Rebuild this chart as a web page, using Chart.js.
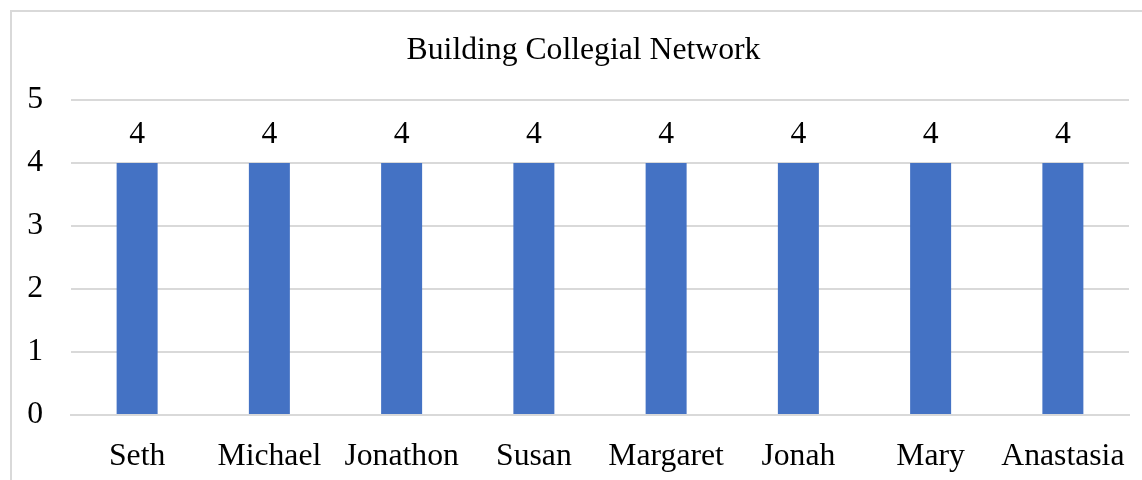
<!DOCTYPE html>
<html>
<head>
<meta charset="utf-8">
<script src="https://cdn.jsdelivr.net/npm/chart.js@4/dist/chart.umd.min.js"></script>
<style>
  html, body { margin: 0; padding: 0; background: #fff; }
  #wrap { position: relative; width: 1142px; height: 480px; overflow: hidden; }
  #frame { position: absolute; left: 10px; top: 10px; width: 1200px; height: 600px;
           border: 2px solid #d9d9d9; pointer-events: none; box-sizing: border-box; }
</style>
</head>
<body>
<div id="wrap">
  <canvas id="chart" width="1142" height="480"></canvas>
  <div id="frame"></div>
</div>
<script>
const categories = ['Seth', 'Michael', 'Jonathon', 'Susan', 'Margaret', 'Jonah', 'Mary', 'Anastasia'];
const scores = [4, 4, 4, 4, 4, 4, 4, 4];
const chartTitle = 'Building Collegial Network';

const serif = "'Liberation Serif', 'Times New Roman', serif";
const fontSize = 31.7;

// labels drawn above each bar
const barValueLabels = {
  id: 'barValueLabels',
  afterDatasetsDraw(chart) {
    const ctx = chart.ctx;
    const meta = chart.getDatasetMeta(0);
    ctx.save();
    ctx.font = fontSize + 'px ' + serif;
    ctx.fillStyle = '#000';
    ctx.textAlign = 'center';
    ctx.textBaseline = 'middle';
    meta.data.forEach((bar, i) => {
      ctx.fillText(String(chart.data.datasets[0].data[i]), bar.x, bar.y - 28);
    });
    ctx.restore();
  }
};

new Chart(document.getElementById('chart'), {
  type: 'bar',
  data: {
    labels: categories,
    datasets: [{
      data: scores,
      backgroundColor: '#4472C4',
      borderWidth: 0,
      categoryPercentage: 1,
      barPercentage: 0.31
    }]
  },
  options: {
    responsive: false,
    animation: false,
    layout: { padding: { left: 25, right: 0, top: 32, bottom: 0 } },
    plugins: {
      legend: { display: false },
      tooltip: { enabled: false },
      title: {
        display: true,
        text: chartTitle,
        color: '#000',
        font: { family: serif, size: fontSize, weight: 'normal' },
        padding: { top: 0, bottom: 30 }
      }
    },
    scales: {
      x: {
        grid: { display: false },
        border: { display: true, color: '#d9d9d9', width: 2 },
        ticks: { color: '#000', padding: 15, maxRotation: 0, autoSkip: false,
                 font: { family: serif, size: fontSize } },
        afterFit(scale) { scale.height = 65; }
      },
      y: {
        min: 0,
        max: 5,
        grid: { color: '#d9d9d9', lineWidth: 2, drawTicks: false },
        border: { display: false },
        ticks: { stepSize: 1, color: '#000', padding: 28,
                 font: { family: serif, size: fontSize } },
        afterFit(scale) { scale.width = 46; }
      },
      // empty spacer on the right so the plot ends short of the edge
      spacer: {
        type: 'linear',
        position: 'right',
        grid: { display: false },
        border: { display: false },
        ticks: { display: false },
        afterFit(scale) { scale.width = 13; }
      }
    }
  },
  plugins: [barValueLabels]
});
</script>
</body>
</html>
